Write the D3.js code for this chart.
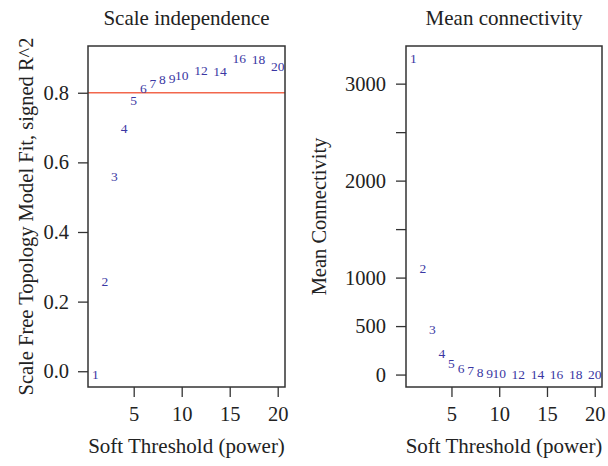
<!DOCTYPE html>
<html>
<head>
<meta charset="utf-8">
<script src="https://cdn.jsdelivr.net/npm/d3@7"></script>
<style>
  html, body { margin: 0; padding: 0; background: #fff; }
  svg text { font-family: "Liberation Serif", "DejaVu Serif", serif; fill: #222; }
</style>
</head>
<body>
<svg id="chart" width="608" height="466"></svg>
<script>
// ---- data ----
const powers = [1, 2, 3, 4, 5, 6, 7, 8, 9, 10, 12, 14, 16, 18, 20];
const signedR2 = [-0.009, 0.257, 0.560, 0.699, 0.778, 0.814, 0.826, 0.840, 0.842, 0.851, 0.865, 0.863, 0.898, 0.897, 0.877];
const meanConnectivity = [3258, 1093, 467, 216, 113, 62, 40, 22, 14, 9, 5, 3, 2, 2, 2];
const xTicks = [5, 10, 15, 20];
const leftYTicks = [0, 0.2, 0.4, 0.6, 0.8];
const rightYTicks = [0, 500, 1000, 1500, 2000, 2500, 3000];
const rightYLabelled = [0, 500, 1000, 2000, 3000];
const cutoff = 0.8;
const titles = ["Scale independence", "Mean connectivity"];
const xLabel = "Soft Threshold (power)";
const yLabels = ["Scale Free Topology Model Fit, signed R^2", "Mean Connectivity"];

// ---- style ----
const labelColor = "#3a37a3";
const lineColor = "#f2674d";
const axisColor = "#333";
const FONT = "Liberation Serif";

const svg = d3.select("#chart");

// R-like 4% padded domain
function rDomain(vals) {
  const [a, b] = d3.extent(vals);
  const p = (b - a) * 0.04;
  return [a - p, b + p];
}

function panel(opt) {
  const { left, right, top, bottom } = opt.box;
  const x = d3.scaleLinear().domain(rDomain(powers)).range([left, right]);
  const y = d3.scaleLinear().domain(rDomain(opt.values)).range([bottom, top]);
  const g = svg.append("g");

  // x axis
  const xa = g.append("g").attr("transform", `translate(0,${bottom})`)
    .call(d3.axisBottom(x).tickValues(xTicks).tickSize(10).tickPadding(9).tickFormat(d3.format("d")))
    .attr("font-family", FONT).attr("font-size", 20.5);
  xa.select(".domain").remove();
  xa.selectAll("line").attr("stroke", axisColor).attr("stroke-width", 1.3);
  xa.selectAll("text").attr("fill", "#222");

  // y axis
  const ya = g.append("g").attr("transform", `translate(${left},0)`)
    .call(d3.axisLeft(y).tickValues(opt.yTicks).tickSize(10).tickPadding(opt.yPad).tickFormat(opt.yFormat))
    .attr("font-family", FONT).attr("font-size", 20.5);
  ya.select(".domain").remove();
  ya.selectAll("line").attr("stroke", axisColor).attr("stroke-width", 1.3);
  ya.selectAll("text").attr("fill", "#222");

  // cutoff line
  if (opt.hline !== undefined) {
    g.append("line")
      .attr("x1", left).attr("x2", right)
      .attr("y1", y(opt.hline)).attr("y2", y(opt.hline))
      .attr("stroke", lineColor).attr("stroke-width", 1.6);
  }

  // box
  g.append("rect")
    .attr("x", left).attr("y", top)
    .attr("width", right - left).attr("height", bottom - top)
    .attr("fill", "none").attr("stroke", axisColor).attr("stroke-width", 1.5);

  // text points
  g.selectAll("text.pt").data(powers).enter().append("text")
    .attr("class", "pt")
    .attr("x", (d) => x(d))
    .attr("y", (d, i) => y(opt.values[i]))
    .attr("dy", "0.35em")
    .attr("text-anchor", "middle")
    .attr("font-size", 13.5)
    .style("fill", labelColor)
    .text((d) => d);

  // title
  g.append("text")
    .attr("x", (left + right) / 2).attr("y", 25)
    .attr("text-anchor", "middle").attr("font-size", 21)
    .text(opt.title);

  // x label
  g.append("text")
    .attr("x", (left + right) / 2).attr("y", 453)
    .attr("text-anchor", "middle").attr("font-size", 21)
    .text(xLabel);

  // y label
  g.append("text")
    .attr("transform", `translate(${opt.yLabelX},${(top + bottom) / 2}) rotate(-90)`)
    .attr("text-anchor", "middle").attr("font-size", 20.5)
    .text(opt.yLabel);
}

panel({
  box: { left: 88, right: 285, top: 46, bottom: 387 },
  values: signedR2,
  yTicks: leftYTicks,
  yFormat: d3.format(".1f"),
  yPad: 9,
  hline: cutoff,
  title: titles[0],
  yLabel: yLabels[0],
  yLabelX: 33
});

panel({
  box: { left: 406, right: 602, top: 46, bottom: 387 },
  values: meanConnectivity,
  yTicks: rightYTicks,
  yFormat: (d) => rightYLabelled.includes(d) ? String(d) : "",
  yPad: 10,
  title: titles[1],
  yLabel: yLabels[1],
  yLabelX: 326
});
</script>
</body>
</html>
